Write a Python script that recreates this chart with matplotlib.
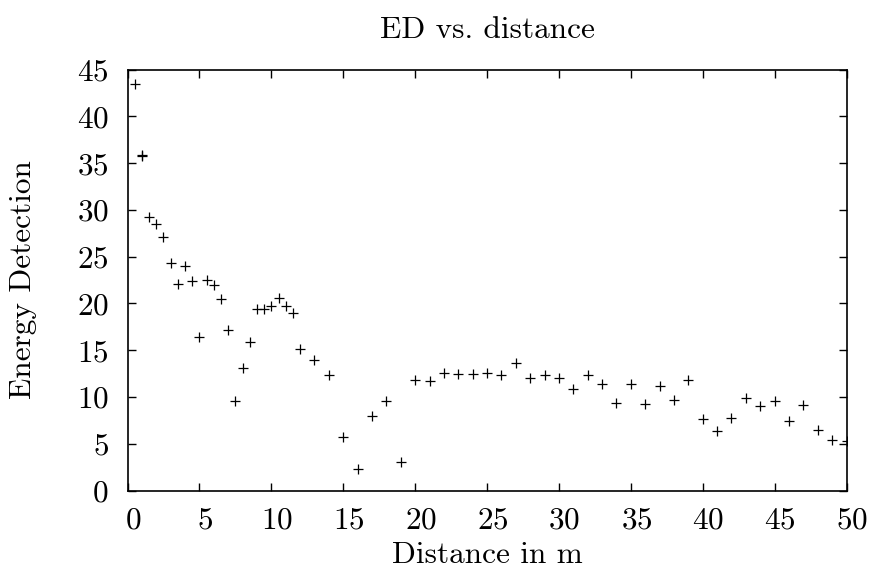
"""
    ED vs. distance scatter, gnuplot look.
"""
import matplotlib
matplotlib.use("Agg")
import matplotlib.pyplot as plt
from matplotlib.transforms import ScaledTranslation

# distance (m) and measured energy detection value
DISTANCE = [0.5, 1.0, 1.0, 1.5, 2.0, 2.5, 3.0, 3.5, 4.0, 4.5, 5.0, 5.5, 6.0,
            6.5, 7.0, 7.5, 8.0, 8.5, 9.0, 9.5, 10.0, 10.5, 11.0, 11.5, 12,
            13, 14, 15, 16, 17, 18, 19, 20, 21, 22, 23, 24, 25, 26, 27, 28,
            29, 30, 31, 32, 33, 34, 35, 36, 37, 38, 39, 40, 41, 42, 43, 44,
            45, 46, 47, 48, 49, 50]
ENERGY = [43.5, 35.8, 35.9, 29.2, 28.5, 27.1, 24.3, 22.1, 24.0, 22.4, 16.4,
          22.5, 22.0, 20.5, 17.2, 9.6, 13.1, 15.9, 19.4, 19.4, 19.7, 20.6,
          19.7, 19.0, 15.1, 13.9, 12.3, 5.7, 2.3, 8.0, 9.6, 3.1, 11.8, 11.7,
          12.55, 12.5, 12.5, 12.55, 12.4, 13.6, 12.05, 12.4, 12.0, 10.85,
          12.4, 11.4, 9.4, 11.4, 9.2, 11.2, 9.7, 11.8, 7.6, 6.35, 7.7, 9.9,
          9.0, 9.6, 7.4, 9.1, 6.5, 5.4, 5.3]
X_TICKS = [0, 5, 10, 15, 20, 25, 30, 35, 40, 45, 50]
Y_TICKS = [0, 5, 10, 15, 20, 25, 30, 35, 40, 45]

FONTSIZE = 22.5

plt.rcParams["font.family"] = "cmr10"
plt.rcParams["axes.formatter.use_mathtext"] = True
plt.rcParams["font.size"] = FONTSIZE

fig = plt.figure(figsize=(8.7, 5.76), dpi=100)
axes = fig.add_axes([0.1466, 0.1484, 0.8264, 0.7309])
axes.plot(DISTANCE, ENERGY, linestyle="none", marker="+", color="black",
          markersize=6.5, markeredgewidth=0.9)

axes.set_xlim(0, 50)
axes.set_ylim(0, 45)
axes.set_xticks(X_TICKS)
axes.set_yticks(Y_TICKS)
axes.tick_params(direction="in", top=True, right=True, length=6,
                 width=1.0, labelsize=FONTSIZE)
axes.tick_params(axis="x", pad=11.5)
axes.tick_params(axis="y", pad=13.5)
for spine in axes.spines.values():
    spine.set_linewidth(1.2)

# gnuplot puts the x tick labels a little to the right of the ticks
shift = ScaledTranslation(5.5 / 100, 0, fig.dpi_scale_trans)
for label in axes.get_xticklabels():
    label.set_transform(label.get_transform() + shift)

axes.set_title("ED vs. distance", fontsize=FONTSIZE, pad=23)
axes.set_xlabel("Distance in m", fontsize=FONTSIZE, labelpad=4.5)
axes.set_ylabel("Energy Detection", fontsize=FONTSIZE, labelpad=29)

fig.savefig("out.png", dpi=100)
